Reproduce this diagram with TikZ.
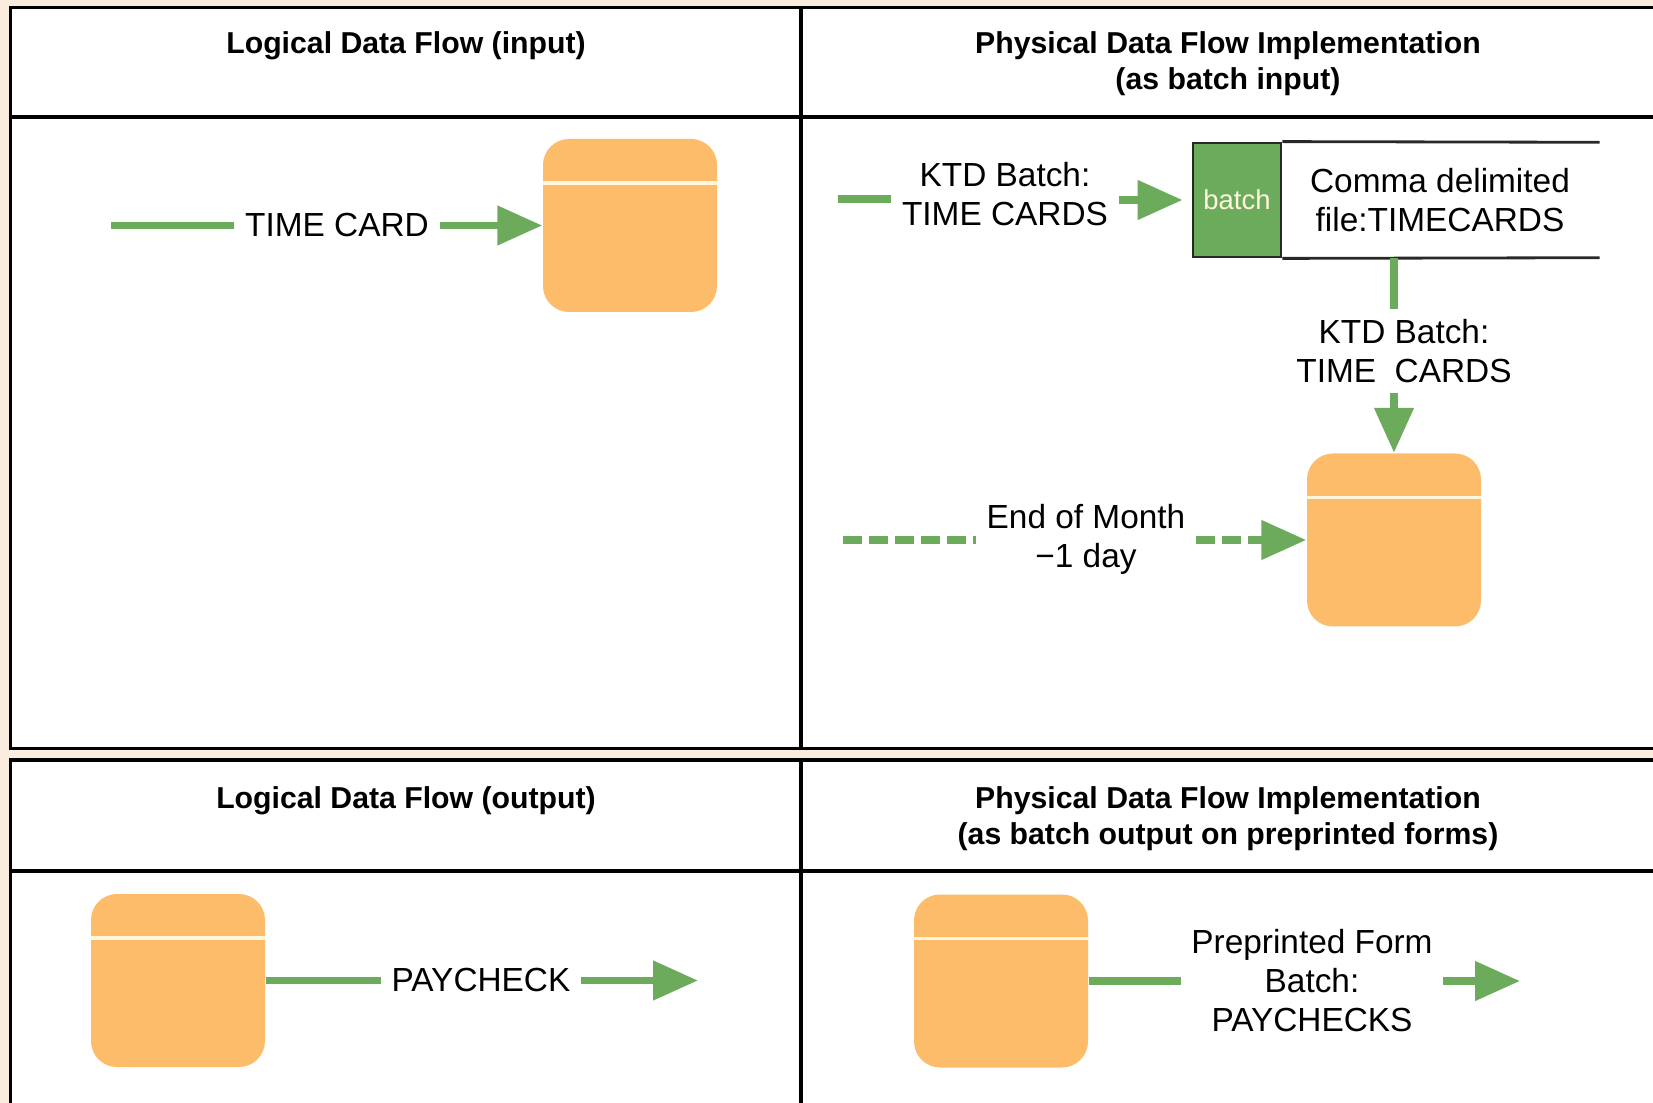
\documentclass[tikz,border=0pt]{standalone}
\usepackage{fontspec}
\setmainfont{Liberation Sans}
\usetikzlibrary{arrows.meta,positioning}
\definecolor{dfgreen}{RGB}{108,171,92}
\definecolor{dforange}{RGB}{252,188,106}
\definecolor{dfbeige}{RGB}{250,236,222}
\definecolor{dfcream}{RGB}{255,246,222}
\definecolor{dfline}{RGB}{40,40,40}
\tikzset{
  panel/.style={fill=white,draw=black,line width=1pt},
  rule/.style={black,line width=1pt},
  head/.style={font=\fontsize{8.6}{10.2}\selectfont\bfseries,align=center,inner sep=0pt},
  lbl/.style={font=\fontsize{9.5}{11.1}\selectfont,align=center,
              inner xsep=1mm,inner ysep=1mm},
  store/.style={rectangle,rounded corners=2.6mm,fill=dforange,inner sep=0pt,
                minimum width=17.4mm,minimum height=17.3mm,
                path picture={\draw[dfcream,line width=1.1pt]
                  ([yshift=-4.4mm]path picture bounding box.north west) --
                  ([yshift=-4.4mm]path picture bounding box.north east);}},
  batchbox/.style={rectangle,draw=dfline,line width=0.8pt,fill=dfgreen,
                   minimum width=8.8mm,minimum height=11.4mm,inner sep=0pt,
                   font=\fontsize{7.8}{9}\selectfont,text=dfcream},
  filebox/.style={rectangle,minimum width=31.8mm,minimum height=11.4mm,
                  inner sep=0pt,font=\fontsize{9.5}{11.1}\selectfont,align=center},
  fileedge/.style={dfline,line width=0.8pt},
  flow/.style={dfgreen,line width=2.2pt},
  flowa/.style={flow,-{Triangle[length=4.5mm,width=3.8mm]}},
  trig/.style={dfgreen,line width=2.2pt,dash pattern=on 1.9mm off 0.7mm},
  triga/.style={trig,-{Triangle[length=4.5mm,width=3.8mm]}},
}
\begin{document}
\begin{tikzpicture}
  \useasboundingbox (0,0) rectangle (16.53,-11.03);
  \fill[dfbeige] (0,0) rectangle (16.53,-11.03);
  \clip (0,0) rectangle (16.53,-11.03);
  % the two tables
  \draw[panel] (0.105,-0.074) rectangle (16.8,-7.485);
  \draw[panel] (0.105,-7.60) rectangle (16.8,-11.3);
  \draw[rule] (0.105,-1.17) -- (16.8,-1.17);
  \draw[rule] (8.01,-0.074) -- (8.01,-7.485);
  \draw[rule] (0.105,-8.71) -- (16.8,-8.71);
  \draw[rule] (8.01,-7.60) -- (8.01,-11.3);
  % headers
  \node[head] (hin)   at (4.06,-0.46) {Logical Data Flow (input)};
  \node[head] (hbin)  at (12.28,-0.64) {Physical Data Flow Implementation\\(as batch input)};
  \node[head] (hout)  at (4.06,-8.01) {Logical Data Flow (output)};
  \node[head] (hbout) at (12.28,-8.19) {Physical Data Flow Implementation\\(as batch output on preprinted forms)};

  % logical input
  \node[store] (st1) at (6.30,-2.255) {};
  \coordinate (tcsrc) at (1.11,-2.255);
  \node[lbl] (tc) at (3.37,-2.255) {TIME CARD};
  \draw[flow]  (tcsrc) -- (tc);
  \draw[flowa] (tc) -- (st1);

  % physical input (batch file)
  \node[batchbox] (bx) at (12.37,-2.00) {batch};
  \node[filebox] (file) at (14.40,-2.00) {Comma delimited\\file:TIMECARDS};
  \draw[fileedge] (bx.north east) -- (file.north east);
  \draw[fileedge] (bx.south east) -- (file.south east);
  \coordinate (ksrc) at (8.38,-1.99);
  \node[lbl] (ktd1) at (10.05,-1.945) {KTD Batch:\\TIME CARDS};
  \draw[flow] (ksrc) -- (ksrc -| ktd1.west);
  \draw[flowa,shorten >=0.9mm] (ktd1.east |- bx) -- (bx);
  \node[store] (st2) at (13.94,-5.40) {};
  \node[lbl] (ktd2) at (14.04,-3.51) {KTD Batch:\\TIME\ \ CARDS};
  \draw[flow]  (file.south -| st2) -- (ktd2.north -| st2);
  \draw[flowa] (ktd2.south -| st2) -- (st2);
  \coordinate (eomsrc) at (8.43,-5.40);
  \node[lbl] (eom) at (10.86,-5.39) {End of Month\\−1 day};
  \draw[trig]  (eomsrc) -- (eomsrc -| eom.west);
  \draw[triga] (eom.east |- st2) -- (st2);

  % logical output
  \node[store] (st3) at (1.78,-9.805) {};
  \node[lbl] (pay) at (4.81,-9.805) {PAYCHECK};
  \coordinate (payout) at (6.98,-9.805);
  \draw[flow]  (st3) -- (pay);
  \draw[flowa] (pay) -- (payout);

  % physical output (preprinted forms)
  \node[store] (st4) at (10.01,-9.81) {};
  \node[lbl] (ppf) at (13.12,-9.81) {Preprinted Form\\Batch:\\PAYCHECKS};
  \coordinate (ppfout) at (15.20,-9.81);
  \draw[flow]  (st4) -- (ppf);
  \draw[flowa] (ppf) -- (ppfout);
\end{tikzpicture}
\end{document}
